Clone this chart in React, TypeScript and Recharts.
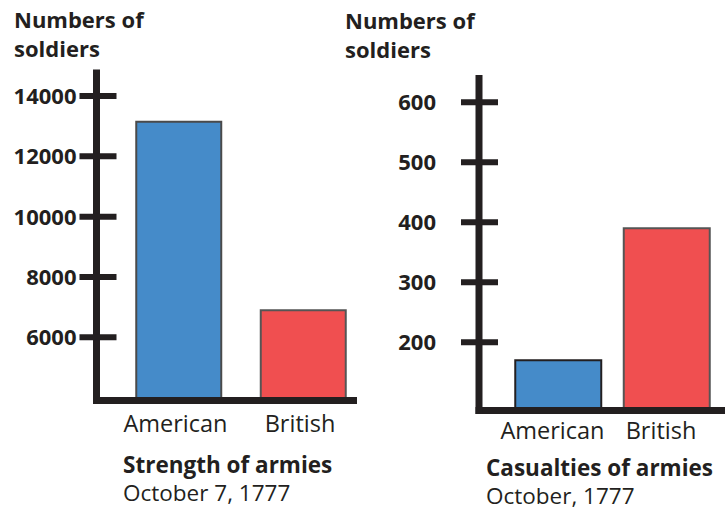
import React from 'react';
import { BarChart, Bar, XAxis, YAxis, Cell } from 'recharts';

// ---- Data ----
const strengthCategories = ['American', 'British'];
const strengthValues = [13150, 6900];
const strengthTicks = [6000, 8000, 10000, 12000, 14000];

const casualtyCategories = ['American', 'British'];
const casualtyValues = [170, 390];
const casualtyTicks = [200, 300, 400, 500, 600];

const barFills = ['#458bc9', '#f04f50'];
const leftStrokes = ['#4a4a4a', '#555555'];
const rightStrokes = ['#231f20', '#555555'];

const INK = '#231f20';
const FONT = '"Open Sans", "Noto Sans", sans-serif';

const strengthData = strengthCategories.map((name, i) => ({ name, value: strengthValues[i] }));
const casualtyData = casualtyCategories.map((name, i) => ({ name, value: casualtyValues[i] }));

const makeYTick = (left: number, right: number, gap: number) => (props: any) => {
  const { x, y, payload } = props;
  return (
    <g>
      <line x1={x - left} x2={x + right} y1={y} y2={y} stroke={INK} strokeWidth={6} />
      <text
        x={x - gap}
        y={y + 8}
        textAnchor="end"
        fontFamily={FONT}
        fontWeight={700}
        fontSize={22}
        fill={INK}
      >
        {payload.value}
      </text>
    </g>
  );
};

const makeXTick = (dx: number, dy: number) => (props: any) => {
  const { x, y, payload } = props;
  return (
    <text x={x + dx} y={y + dy} textAnchor="middle" fontFamily={FONT} fontSize={23.5} fill={INK}>
      {payload.value}
    </text>
  );
};

const axisLineStyle: any = { stroke: INK, strokeWidth: 7, strokeLinecap: 'square' };

export default function App() {
  return (
    <div style={{ position: 'absolute', left: 0, top: 0, width: 725, height: 510, background: '#fff', overflow: 'hidden' }}>
      <div style={{ position: 'absolute', left: 0, top: 0 }}>
        <BarChart
          width={380}
          height={510}
          data={strengthData}
          margin={{ top: 73, left: 0, right: 26.5, bottom: 0 }}
          style={{ overflow: 'visible' }}
        >
          <XAxis
            dataKey="name"
            height={109.5}
            padding={{ left: 19.75, right: -11.75 }}
            tickLine={false}
            tickSize={0}
            tickMargin={0}
            axisLine={axisLineStyle}
            tick={makeXTick(-3, 31)}
            interval={0}
          />
          <YAxis
            width={96.5}
            type="number"
            domain={[3905, 14763]}
            ticks={strengthTicks}
            allowDataOverflow
            tickLine={false}
            tickSize={0}
            tickMargin={0}
            axisLine={axisLineStyle}
            tick={makeYTick(17, 20, 20)}
            interval={0}
          />
          <Bar dataKey="value" barSize={85} isAnimationActive={false} strokeWidth={2}>
            {strengthData.map((d, i) => (
              <Cell key={d.name} fill={barFills[i]} stroke={leftStrokes[i]} />
            ))}
          </Bar>
        </BarChart>
      </div>
      <div style={{ position: 'absolute', left: 380, top: 0 }}>
        <BarChart
          width={345}
          height={510}
          data={casualtyData}
          margin={{ top: 78.5, left: 0, right: 3, bottom: 0 }}
          style={{ overflow: 'visible' }}
        >
          <XAxis
            dataKey="name"
            height={99.5}
            padding={{ left: 25.25, right: 0.75 }}
            tickLine={false}
            tickSize={0}
            tickMargin={0}
            axisLine={axisLineStyle}
            tick={makeXTick(-6, 28)}
            interval={0}
          />
          <YAxis
            width={99}
            type="number"
            domain={[86.3, 639.7]}
            ticks={casualtyTicks}
            allowDataOverflow
            tickLine={false}
            tickSize={0}
            tickMargin={0}
            axisLine={axisLineStyle}
            tick={makeYTick(18, 19, 43)}
            interval={0}
          />
          <Bar dataKey="value" barSize={86} isAnimationActive={false} strokeWidth={2}>
            {casualtyData.map((d, i) => (
              <Cell key={d.name} fill={barFills[i]} stroke={rightStrokes[i]} />
            ))}
          </Bar>
        </BarChart>
      </div>
      <svg
        width={725}
        height={510}
        style={{ position: 'absolute', left: 0, top: 0, pointerEvents: 'none' }}
      >
        <g fontFamily={FONT} fill={INK}>
          <text x={14} y={27.5} fontWeight={700} fontSize={22}>Numbers of</text>
          <text x={14} y={57} fontWeight={700} fontSize={22}>soldiers</text>
          <text x={345} y={28.5} fontWeight={700} fontSize={22}>Numbers of</text>
          <text x={345} y={58} fontWeight={700} fontSize={22}>soldiers</text>
          <text x={123} y={473} fontWeight={700} fontSize={22.5}>Strength of armies</text>
          <text x={123} y={501} fontSize={22.5}>October 7, 1777</text>
          <text x={486} y={476} fontWeight={700} fontSize={22.5}>Casualties of armies</text>
          <text x={486} y={504} fontSize={22.5}>October, 1777</text>
        </g>
      </svg>
    </div>
  );
}
